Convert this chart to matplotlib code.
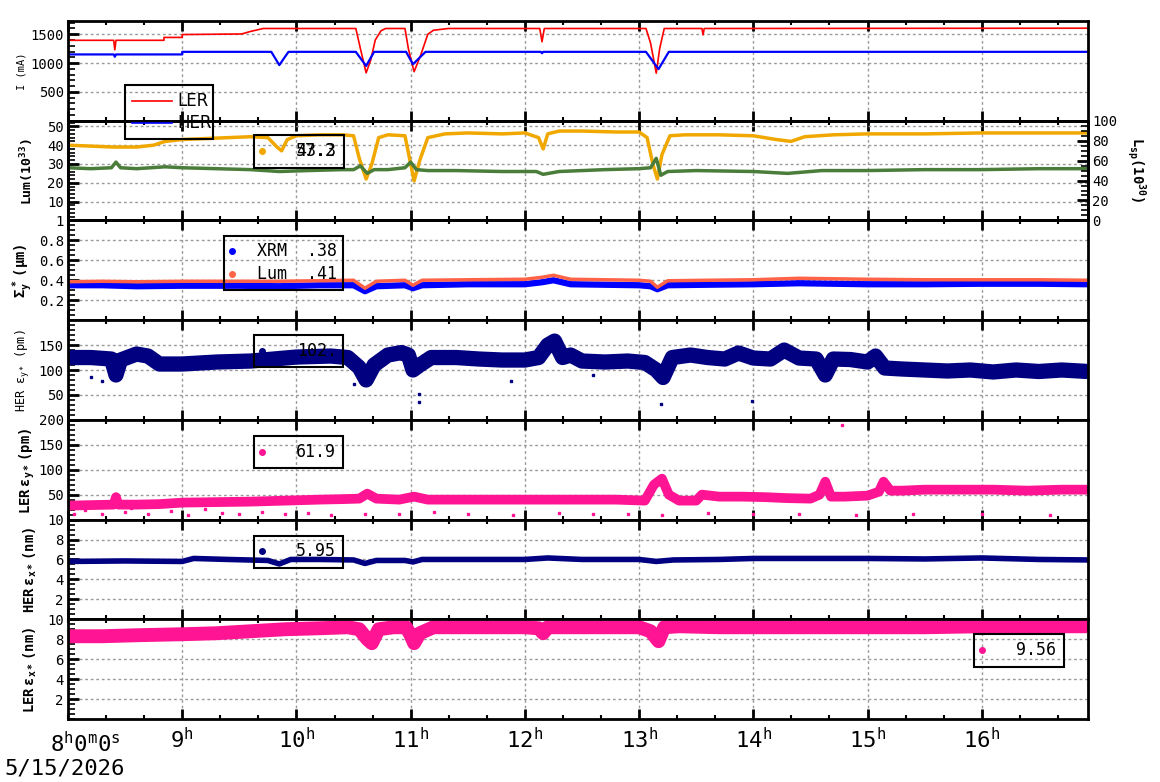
import matplotlib
matplotlib.use('Agg')
import matplotlib.pyplot as plt
from matplotlib.ticker import MultipleLocator, FixedLocator, FixedFormatter, FuncFormatter
from matplotlib.patches import Rectangle
from matplotlib.lines import Line2D

# ---------------- data (time in decimal hours) ----------------
LER_I_T = [8.0, 8.40, 8.41, 8.42, 8.84, 8.84, 9.0, 9.0, 9.52, 9.60, 9.71, 10.52, 10.56, 10.61, 10.65,
           10.69, 10.74, 10.78, 10.95, 10.98, 11.03, 11.09, 11.15, 11.20, 11.33, 12.13, 12.15, 12.17,
           13.06, 13.10, 13.15, 13.18, 13.22, 13.55, 13.56, 13.57, 16.93]
LER_I_V = [1395, 1395, 1230, 1395, 1395, 1445, 1445, 1495, 1505, 1550, 1600, 1600, 1250, 830, 1050,
           1400, 1560, 1600, 1600, 1250, 850, 1150, 1500, 1570, 1600, 1600, 1370, 1600,
           1600, 1350, 825, 1250, 1600, 1600, 1490, 1600, 1605]
HER_I_T = [8.0, 8.40, 8.41, 8.42, 9.0, 9.0, 9.78, 9.85, 9.93, 10.52, 10.61, 10.68, 10.96, 11.02,
           11.13, 12.14, 12.15, 12.16, 13.06, 13.17, 13.26, 16.93]
HER_I_V = [1150, 1150, 1110, 1150, 1150, 1195, 1195, 965, 1195, 1195, 950, 1195, 1195, 980,
           1195, 1195, 1170, 1195, 1195, 895, 1195, 1195]

LUM_A_T = [8.0, 8.2, 8.4, 8.6, 8.75, 8.85, 9.0, 9.2, 9.4, 9.6, 9.75, 9.83, 9.87, 9.92, 10.0, 10.2,
           10.4, 10.5, 10.55, 10.61, 10.66, 10.72, 10.8, 10.95, 10.99, 11.03, 11.08, 11.15, 11.3,
           11.5, 11.8, 12.0, 12.12, 12.16, 12.2, 12.3, 12.5, 12.8, 13.0, 13.07, 13.12, 13.16, 13.2,
           13.27, 13.4, 13.7, 14.0, 14.2, 14.33, 14.45, 14.7, 15.0, 15.5, 16.0, 16.5, 16.93]
LUM_A_V = [40, 39.5, 39, 39, 40, 42, 43, 43.5, 44, 44.5, 44, 39, 37, 43, 45, 45.5,
           45.5, 45, 33, 22, 30, 44, 45.5, 45, 33, 21, 32, 44, 46,
           46.5, 46, 46.5, 44, 38, 46, 47.5, 47.5, 47, 47, 44, 30, 22, 35,
           45, 45.5, 45.5, 45, 43, 42, 44.5, 45.5, 46, 46, 46.5, 46.5, 46.5]
LUM_B_T = [8.0, 8.2, 8.38, 8.42, 8.46, 8.6, 8.85, 9.0, 9.3, 9.6, 9.85, 10.1, 10.4, 10.5, 10.56,
           10.62, 10.68, 10.8, 10.95, 11.0, 11.05, 11.15, 11.4, 11.8, 12.1, 12.16, 12.3, 12.7, 13.0,
           13.1, 13.15, 13.19, 13.25, 13.5, 14.0, 14.3, 14.6, 15.0, 15.5, 16.0, 16.5, 16.93]
LUM_B_V = [28, 27.5, 28, 31, 28, 27.5, 28.5, 28, 27.5, 27, 26, 26.5, 27, 27, 29,
           25, 27, 27, 28, 31, 27, 26.5, 26.5, 26, 26, 24.5, 26, 27, 27.5,
           28, 33, 24, 26, 26.5, 26, 25, 26.5, 26.5, 27, 27, 27.5, 27.5]

SIG_T = [8.0, 8.3, 8.6, 9.0, 9.5, 9.85, 10.2, 10.5, 10.6, 10.7, 10.95, 11.02, 11.1, 11.5, 12.0,
         12.15, 12.25, 12.4, 13.0, 13.1, 13.16, 13.25, 13.6, 14.0, 14.4, 15.0, 15.5, 16.0, 16.5, 16.93]
SIG_XRM = [0.35, 0.35, 0.34, 0.345, 0.345, 0.34, 0.35, 0.35, 0.29, 0.34, 0.35, 0.32, 0.35, 0.36, 0.36,
           0.38, 0.40, 0.36, 0.35, 0.34, 0.31, 0.35, 0.355, 0.36, 0.37, 0.36, 0.36, 0.365, 0.365, 0.36]
SIG_LUM = [0.385, 0.39, 0.385, 0.39, 0.39, 0.39, 0.395, 0.40, 0.32, 0.39, 0.40, 0.35, 0.40, 0.405, 0.41,
           0.43, 0.45, 0.41, 0.40, 0.39, 0.33, 0.395, 0.40, 0.405, 0.42, 0.41, 0.405, 0.405, 0.405, 0.40]

HERY_T = [8.0, 8.2, 8.38, 8.42, 8.46, 8.6, 8.7, 8.8, 9.0, 9.3, 9.6, 9.8, 10.0, 10.3, 10.45, 10.55,
          10.61, 10.68, 10.8, 10.92, 10.98, 11.02, 11.08, 11.18, 11.4, 11.6, 11.8, 12.0, 12.12, 12.2,
          12.26, 12.33, 12.4, 12.5, 12.7, 12.9, 13.05, 13.15, 13.21, 13.29, 13.45, 13.6, 13.75, 13.87,
          14.0, 14.15, 14.27, 14.4, 14.55, 14.63, 14.7, 14.85, 15.0, 15.07, 15.15, 15.3, 15.5, 15.7,
          15.9, 16.1, 16.3, 16.5, 16.7, 16.93]
HERY_V = [125, 125, 122, 90, 120, 132, 128, 112, 112, 116, 118, 122, 126, 128, 125, 105,
          80, 110, 130, 135, 130, 100, 110, 125, 125, 122, 120, 120, 125, 150,
          158, 125, 130, 118, 116, 118, 115, 100, 85, 125, 130, 125, 122, 134,
          124, 122, 140, 124, 122, 90, 122, 121, 116, 128, 104, 102, 100, 98,
          100, 96, 100, 97, 100, 97]
HERY_OUT_T = [8.2, 8.3, 11.07, 11.07, 11.88, 13.19, 13.99, 12.6, 10.5]
HERY_OUT_V = [86, 78, 52, 36, 78, 32, 38, 90, 72]

LERY_T = [8.0, 8.2, 8.4, 8.42, 8.44, 8.6, 8.8, 9.0, 9.3, 9.6, 9.9, 10.2, 10.4, 10.55, 10.62, 10.7,
          10.9, 11.03, 11.15, 11.4, 11.7, 12.0, 12.2, 12.5, 12.8, 13.05, 13.13, 13.2, 13.26, 13.35,
          13.5, 13.55, 13.7, 13.9, 14.1, 14.3, 14.5, 14.58, 14.63, 14.68, 14.8, 15.0, 15.1, 15.14,
          15.2, 15.3, 15.5, 15.8, 16.1, 16.4, 16.7, 16.93]
LERY_V = [28, 29, 30, 45, 30, 30, 31, 34, 35, 36, 38, 40, 41, 42, 52, 42,
          40, 46, 40, 40, 40, 40, 40, 40, 40, 38, 70, 82, 50, 38,
          38, 50, 46, 46, 45, 43, 42, 50, 76, 46, 46, 48, 56, 76,
          58, 58, 60, 60, 60, 58, 60, 60]
LERY_OUT_T = [8.05, 8.15, 8.3, 8.5, 8.55, 8.7, 8.9, 9.05, 9.2, 9.35, 9.5, 9.7, 9.9, 10.1, 10.3, 10.6,
              10.9, 11.2, 11.5, 11.9, 12.3, 12.6, 12.9, 13.2, 13.6, 14.0, 14.4, 14.9, 15.4, 16.0,
              16.6, 14.78]
LERY_OUT_V = [12, 20, 11, 15, 24, 12, 18, 10, 22, 13, 11, 16, 12, 14, 10, 12,
              11, 15, 12, 10, 13, 11, 12, 10, 14, 11, 12, 10, 11, 12,
              10, 190]

HERX_T = [8.0, 8.5, 9.0, 9.1, 9.4, 9.75, 9.85, 9.95, 10.2, 10.5, 10.6, 10.7, 10.95, 11.02, 11.1,
          11.5, 12.0, 12.2, 12.5, 13.0, 13.15, 13.3, 13.7, 14.0, 14.5, 15.0, 15.5, 16.0, 16.5, 16.93]
HERX_V = [5.8, 5.85, 5.8, 6.1, 6.0, 5.9, 5.55, 6.0, 6.0, 5.95, 5.6, 5.9, 5.9, 5.75, 6.0,
          6.0, 6.0, 6.15, 6.0, 6.0, 5.8, 5.95, 6.0, 6.1, 6.1, 6.1, 6.05, 6.15, 6.0, 5.95]

LERX_T = [8.0, 8.3, 8.6, 9.0, 9.3, 9.6, 9.9, 10.2, 10.45, 10.55, 10.62, 10.66, 10.72, 10.85, 10.96,
          11.0, 11.03, 11.08, 11.2, 11.5, 12.0, 12.12, 12.16, 12.2, 12.5, 13.0, 13.1, 13.17, 13.22,
          13.35, 13.7, 14.0, 14.5, 15.0, 15.5, 16.0, 16.5, 16.93]
LERX_V = [8.3, 8.3, 8.4, 8.5, 8.6, 8.8, 9.0, 9.1, 9.2, 9.0, 8.0, 7.6, 9.0, 9.2, 9.2,
          8.4, 7.6, 8.6, 9.2, 9.2, 9.2, 9.1, 8.6, 9.2, 9.2, 9.2, 8.8, 7.8, 9.2,
          9.3, 9.2, 9.2, 9.2, 9.2, 9.2, 9.3, 9.3, 9.3]

HOURS = [9, 10, 11, 12, 13, 14, 15, 16]
DATE_LABEL = '5/15/2026'
LEG_LUM = ['57.2', '43.3']
LEG_SIG = ['XRM  .38', 'Lum  .41']
LEG_HERY = '102.'
LEG_LERY = '61.9'
LEG_HERX = '5.95'
LEG_LERX = '9.56'

# ---------------- style ----------------
plt.rcParams.update({
    'font.family': 'DejaVu Sans Mono',
    'mathtext.fontset': 'custom',
    'mathtext.rm': 'DejaVu Sans Mono',
    'mathtext.bf': 'DejaVu Sans Mono:bold',
    'mathtext.it': 'DejaVu Sans Mono:oblique',
    'mathtext.sf': 'DejaVu Sans Mono',
})

C_RED = '#ff0000'
C_BLUE = '#0000ff'
C_GOLD = '#f0a800'
C_GREEN = '#4a7d3a'
C_TOMATO = '#ff6347'
C_NAVY = '#000080'
C_PINK = '#ff1493'

W, H = 1160, 782
fig = plt.figure(figsize=(W / 100, H / 100), dpi=100)
L, R, TOP, BOT = 68, 1088, 21, 719
N = 7
ph = (BOT - TOP) / N
X0, X1 = 8.0, 16.93

axes = []
for i in range(N):
    y0 = TOP + i * ph
    ax = fig.add_axes([L / W, 1 - (y0 + ph) / H, (R - L) / W, ph / H])
    axes.append(ax)


def style(ax, ylim, majors, labels, minor):
    ax.set_xlim(X0, X1)
    ax.set_ylim(*ylim)
    ax.xaxis.set_major_locator(MultipleLocator(1))
    ax.xaxis.set_minor_locator(MultipleLocator(1 / 3))
    ax.yaxis.set_major_locator(FixedLocator(majors))
    ax.yaxis.set_major_formatter(FixedFormatter(labels))
    ax.yaxis.set_minor_locator(MultipleLocator(minor))
    ax.tick_params(axis='x', which='major', direction='in', top=True, bottom=True,
                   length=7, width=2, labelbottom=False)
    ax.tick_params(axis='x', which='minor', direction='in', top=True, bottom=True,
                   length=3, width=1.5)
    ax.tick_params(axis='y', which='major', direction='in', length=8, width=2,
                   labelsize=10, pad=3)
    ax.tick_params(axis='y', which='minor', direction='in', length=5, width=1.2)
    ax.grid(True, which='major', color='#9a9a9a', linestyle=(0, (2, 2)), linewidth=1)
    for s in ax.spines.values():
        s.set_linewidth(2)


kw = dict(solid_joinstyle='round', solid_capstyle='butt')

# Panel 1: currents
a = axes[0]
style(a, (0, 1730), [500, 1000, 1500], ['500', '1000', '1500'], 100)
a.plot(LER_I_T, LER_I_V, color=C_RED, lw=1.2, **kw)
a.plot(HER_I_T, HER_I_V, color=C_BLUE, lw=1.6, **kw)

# Panel 2: luminosity
a = axes[1]
style(a, (0, 53), [10, 20, 30, 40, 50], ['10', '20', '30', '40', '50'], 2)
a.plot(LUM_A_T, LUM_A_V, color=C_GOLD, lw=2.5, **kw)
a.plot(LUM_B_T, LUM_B_V, color=C_GREEN, lw=2.5, **kw)
a2 = a.twinx()
a2.set_ylim(0, 100)
a2.yaxis.set_major_locator(FixedLocator([0, 20, 40, 60, 80, 100]))
a2.yaxis.set_minor_locator(MultipleLocator(5))
a2.tick_params(axis='y', which='major', direction='in', length=8, width=2, labelsize=10, pad=3)
a2.tick_params(axis='y', which='minor', direction='in', length=5, width=1.2)
for s in a2.spines.values():
    s.set_linewidth(2)

# Panel 3: sigma
a = axes[2]
style(a, (0, 1), [0.2, 0.4, 0.6, 0.8, 1.0], ['0.2', '0.4', '0.6', '0.8', '1'], 0.05)
a.plot(SIG_T, SIG_XRM, color=C_BLUE, lw=4.5, **kw)
a.plot(SIG_T, SIG_LUM, color=C_TOMATO, lw=2.5, **kw)

# Panel 4: HER ey
a = axes[3]
style(a, (0, 200), [50, 100, 150], ['50', '100', '150'], 10)
a.plot(HERY_T, HERY_V, color=C_NAVY, lw=11, **kw)
a.plot(HERY_OUT_T, HERY_OUT_V, ls='none', marker='s', ms=2, color=C_NAVY)

# Panel 5: LER ey
a = axes[4]
style(a, (0, 200), [50, 100, 150, 200], ['50', '100', '150', '200'], 10)
a.plot(LERY_T, LERY_V, color=C_PINK, lw=7, **kw)
a.plot(LERY_OUT_T, LERY_OUT_V, ls='none', marker='s', ms=2, color=C_PINK)

# Panel 6: HER ex
a = axes[5]
style(a, (0, 10), [2, 4, 6, 8, 10], ['2', '4', '6', '8', '10'], 0.5)
a.plot(HERX_T, HERX_V, color=C_NAVY, lw=4, **kw)

# Panel 7: LER ex
a = axes[6]
style(a, (0, 10), [2, 4, 6, 8, 10], ['2', '4', '6', '8', '10'], 0.5)
a.plot(LERX_T, LERX_V, color=C_PINK, lw=10, **kw)
a.xaxis.set_major_locator(FixedLocator(HOURS))
a.xaxis.set_major_formatter(FuncFormatter(lambda v, p: r'$\mathrm{%d^{h}}$' % round(v)))
a.tick_params(axis='x', which='major', labelbottom=True, labelsize=16, pad=6)
# 8h major tick (no label)
a.plot([X0], [0], ls='none')

# y labels
def ylab(x, y, s, size, weight='normal', rot=90):
    fig.text(x / W, 1 - y / H, s, rotation=rot, ha='center', va='center',
             fontsize=size, fontweight=weight)

ylab(22, 71, 'I (mA)', 7.5)
ylab(27, 171, r'$\mathbf{Lum(10^{33})}$', 9.5)
ylab(23, 271, r'$\mathbf{Σ_{y}^{\ *}\ (μm)}$', 10)
ylab(23, 371, r'HER $\mathrm{ε_{y*}}$ (pm)', 8.5)
ylab(27, 471, r'$\mathbf{LER\ ε_{y*}\ (pm)}$', 10)
ylab(30, 570, r'$\mathbf{HER\ ε_{x*}\ (nm)}$', 10)
ylab(30, 670, r'$\mathbf{LER\ ε_{x*}\ (nm)}$', 10)
ylab(1136, 170, r'$\mathbf{L_{sp}(10^{30})}$', 10, rot=270)

# first time label and date
fig.text(85 / W, 1 - 744 / H, r'$\mathrm{8^{h}0^{m}0^{s}}$', ha='center', va='center', fontsize=16)
fig.text(4 / W, 1 - 769 / H, DATE_LABEL, ha='left', va='center', fontsize=16)

# ---------------- legends (overlay in pixel coords) ----------------
ov = fig.add_axes([0, 0, 1, 1], zorder=10)
ov.set_xlim(0, W)
ov.set_ylim(H, 0)
ov.axis('off')
ov.patch.set_alpha(0)


def box(x0, y0, x1, y1):
    ov.add_patch(Rectangle((x0, y0), x1 - x0, y1 - y0, fill=False, ec='black', lw=1.5))


# panel 1
box(125, 85, 213, 139)
ov.plot([132, 172], [101, 101], color=C_RED, lw=1.2)
ov.plot([132, 172], [123, 123], color=C_BLUE, lw=1.2)
ov.text(177, 101, 'LER', fontsize=12, family='DejaVu Sans', va='center', ha='left')
ov.text(177, 123, 'HER', fontsize=12, family='DejaVu Sans', va='center', ha='left')

# panel 2
box(254, 135, 344, 168)
ov.plot([262], [151], marker='o', ms=4, color=C_GOLD)
for s in LEG_LUM:
    ov.text(336, 151, s, fontsize=12, va='center', ha='right')

# panel 3
box(224, 236, 343, 290)
ov.plot([232], [251], marker='o', ms=4, color=C_BLUE)
ov.plot([232], [274], marker='o', ms=4, color=C_TOMATO)
ov.text(257, 251, LEG_SIG[0], fontsize=12, va='center', ha='left')
ov.text(257, 274, LEG_SIG[1], fontsize=12, va='center', ha='left')

# panel 4
box(254, 335, 343, 367)
ov.plot([262], [351], marker='o', ms=4, color=C_NAVY)
ov.text(297, 351, LEG_HERY, fontsize=12, va='center', ha='left')

# panel 5
box(254, 436, 343, 468)
ov.plot([262], [452], marker='o', ms=4, color=C_PINK)
ov.text(336, 452, LEG_LERY, fontsize=12, va='center', ha='right')

# panel 6
box(254, 536, 343, 568)
ov.plot([262], [551], marker='o', ms=4, color=C_NAVY)
ov.text(336, 551, LEG_HERX, fontsize=12, va='center', ha='right')

# panel 7
box(974, 634, 1064, 667)
ov.plot([982], [650], marker='o', ms=4, color=C_PINK)
ov.text(1056, 650, LEG_LERX, fontsize=12, va='center', ha='right')

fig.savefig('out.png', dpi=100)
